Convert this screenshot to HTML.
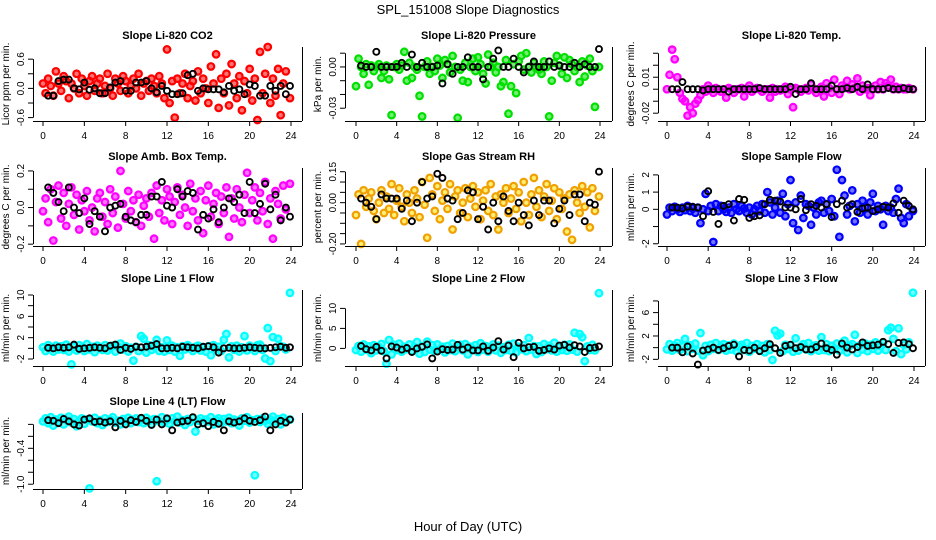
<!DOCTYPE html>
<html><head><meta charset="utf-8">
<style>
html,body{margin:0;padding:0;background:#fff;}
svg{display:block;font-family:"Liberation Sans",Arial,sans-serif;}
</style></head>
<body>
<svg id="chart" width="936" height="540" viewBox="0 0 936 540" xmlns="http://www.w3.org/2000/svg">
<rect x="0" y="0" width="936" height="540" fill="#fff"/>
<text x="468" y="14" text-anchor="middle" font-size="13">SPL_151008  Slope Diagnostics</text>
<text x="468" y="531" text-anchor="middle" font-size="13">Hour of Day (UTC)</text>
</svg>
<script>
// shared hours
const hoursColored = [
0,0.25,0.5,0.75,1,1.25,1.5,1.75,2,2.25,2.5,2.75,
3,3.25,3.5,3.75,4,4.25,4.5,4.75,5,5.25,5.5,5.75,
6,6.25,6.5,6.75,7,7.25,7.5,7.75,8,8.25,8.5,8.75,
9,9.25,9.5,9.75,10,10.25,10.5,10.75,11,11.25,11.5,11.75,
12,12.25,12.5,12.75,13,13.25,13.5,13.75,14,14.25,14.5,14.75,
15,15.25,15.5,15.75,16,16.25,16.5,16.75,17,17.25,17.5,17.75,
18,18.25,18.5,18.75,19,19.25,19.5,19.75,20,20.25,20.5,20.75,
21,21.25,21.5,21.75,22,22.25,22.5,22.75,23,23.25,23.5,23.9];
const hoursBlack = [
0.5,1,1.5,2,2.5,3,3.5,4,4.5,5,5.5,6,
6.5,7,7.5,8,8.5,9,9.5,10,10.5,11,11.5,12,
12.5,13,13.5,14,14.5,15,15.5,16,16.5,17,17.5,18,
18.5,19,19.5,20,20.5,21,21.5,22,22.5,23,23.5,23.9];
const xTicks = [0,4,8,12,16,20,24];

const co2Colored = [0.1,-0.1,0.2,0.05,-0.15,0.35,0.1,-0.05,0.25,0.15,-0.2,0.1,
0.0,0.3,-0.1,0.2,0.05,-0.15,0.15,0.25,-0.05,0.1,0.2,-0.1,
0.05,0.3,0.0,-0.15,0.2,0.1,-0.05,0.25,0.15,-0.1,0.05,0.2,
0.0,0.3,-0.15,0.1,0.15,-0.05,0.2,0.05,-0.1,0.25,0.1,-0.2,
0.8,-0.3,0.15,-0.6,0.2,-0.1,0.1,0.3,-0.2,0.05,0.15,-0.25,
0.35,-0.1,0.2,0.0,-0.3,0.45,0.1,0.7,-0.4,0.2,-0.1,0.3,
-0.35,0.5,0.1,-0.2,0.25,-0.45,0.15,-0.1,0.4,-0.25,0.2,-0.65,
0.75,-0.1,0.3,0.85,-0.3,0.2,-0.15,0.4,-0.55,0.1,0.35,-0.2];
const co2Black = [-0.15,-0.15,0.15,0.18,0.18,0.0,-0.02,0.12,-0.03,0.0,-0.1,-0.1,
0.02,0.12,0.15,-0.05,-0.05,0.12,0.12,0.15,0.0,-0.08,0.05,-0.05,
-0.12,-0.12,-0.1,0.27,0.3,-0.05,0.0,-0.02,-0.02,-0.02,-0.08,0.05,
-0.05,-0.02,-0.12,0.08,0.05,-0.15,-0.15,0.05,-0.05,0.05,-0.12,0.05];

const pressColored = [-0.014,0.006,0.0,-0.005,0.002,-0.013,0.001,-0.003,0.0,0.002,-0.008,-0.003,
0.001,-0.009,-0.035,0.0,0.002,-0.002,0.001,0.011,-0.01,0.003,-0.008,0.0,
-0.002,-0.021,-0.036,0.0,0.004,-0.005,0.0,-0.003,0.006,0.001,-0.008,0.005,
0.002,-0.004,0.008,0.0,-0.037,-0.002,-0.01,0.003,-0.011,0.0,0.006,-0.003,
0.007,0.002,-0.005,-0.012,0.009,0.0,0.003,-0.004,0.0,-0.014,-0.011,0.005,
-0.034,-0.014,0.002,-0.019,0.004,0.008,-0.002,0.01,0.0,-0.004,0.003,0.0,
-0.002,-0.005,0.004,0.0,-0.036,-0.01,0.003,0.008,0.001,-0.005,0.007,-0.008,
0.005,0.002,-0.003,0.0,-0.011,0.004,-0.007,0.001,0.006,-0.003,-0.029,0.0];
const pressBlack = [0.001,0.0,0.0,0.011,0.0,0.0,0.0,0.0,0.003,0.0,0.009,0.0,
0.003,0.0,0.0,0.001,-0.012,0.002,-0.005,0.0,0.0,0.007,0.0,0.0,
-0.009,0.0,0.006,0.012,0.0,0.0,0.006,0.0,-0.004,0.0,0.004,0.0,
0.0,0.004,0.0,0.001,0.0,0.0,0.003,0.0,0.002,0.0,0.0,0.013];

const tempColored = [0.0,0.012,0.033,0.025,0.01,-0.003,-0.008,-0.01,-0.022,-0.015,-0.02,-0.012,
-0.009,-0.005,0.0,-0.002,0.003,0.0,-0.003,0.001,0.0,-0.002,0.0,-0.007,
0.001,0.0,-0.003,0.0,0.0,0.001,-0.006,0.0,0.003,-0.002,0.0,0.001,
0.0,-0.002,0.0,0.0,-0.007,0.001,-0.002,0.0,-0.001,0.0,0.002,-0.004,
0.0,-0.015,0.001,0.0,-0.002,0.0,0.001,-0.001,0.004,0.0,-0.003,0.0,
0.002,-0.006,0.005,0.001,-0.003,0.008,0.0,-0.004,0.003,0.001,0.007,0.0,
0.004,0.001,0.009,-0.002,0.003,0.0,0.001,-0.005,0.0,0.003,0.0,0.006,
0.0,0.005,0.003,0.008,0.0,0.002,0.0,0.001,0.0,0.0,0.001,0.0];
const tempBlack = [0.0,0.0,0.006,0.0,0.0,0.0,-0.001,0.0,0.0,0.0,0.0,-0.002,
0.0,0.0,0.0,0.0,0.0,0.001,0.0,0.0,0.0,0.0,0.0,0.002,
-0.004,0.0,0.0,0.005,0.0,0.0,0.0,0.003,0.0,0.0,0.001,0.0,
0.002,0.0,0.004,0.0,0.0,0.0,0.001,0.0,0.0,0.001,0.0,0.0];

const ambColored = [-0.02,0.05,-0.08,0.1,-0.18,0.03,0.12,-0.06,0.08,-0.1,0.02,0.11,
-0.04,0.07,-0.12,0.04,-0.02,0.09,-0.07,0.0,-0.13,0.05,0.08,-0.05,
0.03,-0.09,0.1,-0.03,0.06,-0.11,0.2,0.02,-0.06,0.09,-0.02,0.04,
-0.08,0.07,-0.1,0.01,0.05,-0.05,0.08,-0.17,0.12,-0.03,0.04,-0.07,
0.1,0.06,-0.09,0.03,0.11,-0.04,0.07,0.0,-0.1,0.13,-0.02,0.05,
-0.07,0.09,-0.14,0.04,0.12,-0.05,0.02,0.08,-0.09,0.06,-0.03,0.11,
-0.16,0.05,-0.06,0.1,0.0,-0.08,0.07,0.19,-0.03,0.04,0.11,-0.07,
0.08,-0.02,0.14,-0.09,0.05,-0.17,0.09,0.02,-0.06,0.12,-0.01,0.13];
const ambBlack = [0.11,0.08,0.03,-0.02,0.11,0.0,-0.03,0.05,-0.09,-0.02,-0.05,-0.13,
0.0,0.01,0.02,-0.05,-0.07,-0.08,-0.04,-0.04,0.06,0.06,0.14,0.01,
0.0,0.1,0.06,0.09,0.08,-0.12,-0.04,-0.06,-0.01,-0.08,0.0,0.05,
0.03,0.07,-0.03,0.14,-0.03,0.02,0.13,-0.01,0.07,-0.07,0.0,-0.05];

const rhColored = [-0.06,0.04,-0.2,0.06,-0.02,0.02,0.05,-0.04,-0.08,0.0,0.06,-0.05,
0.03,-0.03,0.09,-0.06,0.01,0.07,-0.02,-0.09,0.04,0.0,-0.05,0.06,
0.02,-0.07,0.1,-0.01,-0.17,0.12,0.04,-0.04,0.08,-0.08,0.01,0.05,
-0.03,0.09,-0.13,0.03,0.06,-0.05,0.0,0.07,-0.07,0.02,0.08,-0.02,
0.05,-0.08,0.01,0.06,-0.04,0.09,-0.06,0.03,-0.13,0.04,0.0,0.07,
-0.05,0.02,0.08,-0.03,0.05,-0.09,0.1,0.0,-0.06,0.04,0.12,-0.02,
0.06,-0.07,0.03,0.09,-0.04,0.01,0.07,-0.08,0.05,-0.03,0.02,-0.14,
0.04,-0.18,0.06,0.0,-0.05,0.08,-0.02,0.05,-0.12,0.07,-0.04,0.03];
const rhBlack = [0.02,0.0,-0.02,-0.08,0.04,0.02,0.02,0.02,-0.03,0.01,-0.09,0.0,
0.1,0.02,0.03,0.14,0.12,0.02,0.01,-0.08,-0.05,0.06,0.05,-0.08,
-0.02,-0.13,0.0,-0.09,0.03,-0.04,-0.09,0.0,-0.06,-0.11,0.01,-0.06,
0.01,0.01,-0.1,-0.03,0.01,-0.06,0.04,0.04,-0.09,0.0,-0.01,0.15];

const sampleColored = [-0.3,0.1,-0.1,0.15,0.0,-0.15,0.1,-0.05,0.2,-0.1,0.05,-0.2,
0.1,-0.8,0.0,0.9,-0.1,0.2,-1.9,0.3,-0.1,0.2,0.0,-0.15,
0.1,-0.2,0.3,0.0,-0.1,0.2,0.05,-0.2,0.1,-0.3,0.0,0.2,
-0.1,0.3,-0.2,1.0,0.4,-0.3,0.1,0.5,-0.2,0.9,-0.4,0.3,
1.7,-0.8,0.4,-1.2,0.8,-0.5,0.3,0.2,-0.9,0.1,-0.3,0.4,
0.5,-0.2,0.3,-0.1,0.6,-0.4,2.3,-1.6,1.7,0.8,-0.3,0.2,
1.1,-0.7,0.3,-0.2,0.5,0.1,-0.3,0.4,0.9,-0.1,0.2,0.0,
-0.9,0.2,-0.1,0.1,-0.2,0.6,1.2,-0.5,-0.8,0.3,-0.4,-0.1];
const sampleBlack = [0.1,0.1,0.05,0.15,0.15,0.1,-0.4,1.05,-0.15,-0.85,0.2,0.3,
-0.65,0.6,0.55,-0.5,-0.4,-0.35,0.3,0.55,0.5,0.45,0.1,0.1,
0.0,0.6,-0.05,0.3,0.2,0.1,0.3,-0.45,0.3,0.5,0.1,0.3,
-0.15,0.05,0.1,-0.1,0.0,0.15,0.1,0.35,-0.2,0.5,0.2,0.0];

const line1Colored = [0.2,-0.5,0.6,0.0,-0.6,0.5,-0.2,0.4,-0.3,0.7,-0.6,-3.0,
0.3,-0.4,0.6,0.1,-0.5,0.8,-0.2,0.3,-0.7,0.5,0.0,-0.3,
0.6,-0.4,0.2,0.5,-0.6,0.3,0.9,-0.2,0.4,-0.6,0.1,-2.3,
0.3,-0.5,2.3,1.8,-0.8,0.6,-0.3,0.4,1.6,-0.5,0.2,-0.6,
1.5,-0.3,0.5,-0.6,0.2,-1.4,0.4,-0.2,0.6,0.0,-0.5,0.3,
0.5,-0.4,0.2,-0.6,0.4,-1.3,0.6,-0.2,0.3,-0.5,1.6,2.7,
-1.7,0.4,-0.3,0.5,-0.6,0.2,2.3,-0.4,0.5,0.1,-0.5,0.6,
0.7,-0.3,-1.9,3.8,-2.4,2.1,-0.5,1.8,0.4,0.3,-0.2,10.4];
const line1Black = [0.1,0.0,0.2,0.1,0.2,0.7,-0.1,0.0,0.1,0.2,0.1,0.0,
0.5,0.7,-0.3,0.1,-0.1,0.3,0.2,0.3,0.5,0.8,0.0,0.0,
0.1,0.0,0.3,0.2,0.1,0.0,0.3,0.4,0.2,-0.8,0.0,0.1,
0.0,0.0,0.1,0.2,0.1,0.0,0.0,0.1,0.2,0.3,0.1,0.2];

const line2Colored = [-0.4,0.6,-0.8,1.0,-0.3,0.5,-1.2,0.8,-0.5,0.3,1.1,-0.7,
-3.8,2.1,-1.5,0.9,-0.4,1.2,-0.8,0.4,-0.2,1.0,-0.6,0.3,
1.6,-1.3,0.5,-0.9,1.7,-0.3,0.8,-0.6,1.0,-0.2,0.4,-1.0,
0.6,-0.4,1.2,-0.7,0.3,0.9,-0.5,1.1,-1.5,0.4,-0.2,0.8,
-0.9,1.3,-0.3,0.6,-0.8,0.2,1.0,-0.5,0.7,-1.1,0.3,-0.4,
0.9,-0.6,1.2,-1.0,0.4,-0.2,0.8,-0.7,2.6,-0.3,0.6,-1.4,
0.5,-0.9,1.1,-0.2,0.7,-0.5,1.4,-0.8,0.3,-0.4,0.9,-0.6,
1.0,-0.3,3.9,-0.8,3.6,2.8,-3.2,0.5,-0.4,0.9,-0.5,13.8];
const line2Black = [0.6,-0.2,-0.5,0.4,-0.6,-2.5,0.5,0.2,-0.3,0.1,-0.9,0.0,
0.4,1.0,-2.5,-0.8,-0.2,-0.4,-0.3,0.9,-0.3,0.2,-0.5,-0.5,
0.5,-0.6,0.2,1.8,-0.3,0.7,-2.2,1.4,0.0,0.3,0.4,-0.6,
-0.4,0.0,-0.3,0.7,0.9,0.2,0.8,0.5,-0.9,0.1,0.2,0.5];

const line3Colored = [-0.3,0.6,-0.5,0.3,0.8,-0.4,0.2,1.5,-0.6,0.4,-0.2,0.7,
-0.5,2.5,-1.3,0.3,-0.6,0.5,-0.2,0.8,-0.4,0.2,0.6,-0.5,
0.4,-0.3,0.7,-0.6,0.2,0.5,-0.4,0.8,-0.7,0.3,-0.2,0.6,
-0.5,0.3,-0.8,0.6,-0.4,-2.1,2.9,2.1,2.4,-0.6,0.5,-0.2,
0.4,-0.7,1.6,-0.5,0.2,0.6,-0.3,0.8,-0.6,0.3,0.4,-0.5,
1.8,-0.4,0.6,-0.6,0.3,-0.2,0.7,-0.5,0.4,1.2,-0.8,0.3,
0.6,2.2,-0.9,0.4,-0.3,0.7,-0.6,0.5,-0.2,0.9,-0.5,0.3,
0.8,-0.4,3.0,3.4,1.5,-0.6,3.3,-1.1,0.5,-0.3,0.9,9.4];
const line3Black = [0.0,0.0,-0.8,0.2,-1.0,-2.9,-0.5,-0.3,0.0,-0.4,-0.1,0.3,
0.5,-1.5,-0.4,-0.5,0.0,-0.6,-0.1,0.6,-0.1,-0.9,0.3,0.5,
-0.1,0.1,-0.3,-0.3,0.1,0.7,-0.1,-0.4,-1.2,0.7,0.0,-0.3,
0.1,0.9,0.3,0.4,0.5,1.0,0.6,-0.9,0.8,0.9,0.6,-0.1];

const line4Colored = [0.05,0.1,0.02,0.12,-0.02,0.08,0.04,0.11,0.0,0.07,0.13,0.03,
0.09,-0.03,0.06,0.1,0.01,0.08,-1.07,0.05,0.11,0.02,0.07,-0.01,
0.1,0.04,0.08,0.12,0.03,0.06,0.0,0.09,0.05,0.11,0.02,0.07,
0.1,0.04,0.08,0.02,0.11,0.06,0.0,0.09,-0.95,0.05,0.12,0.03,
0.08,0.01,0.1,0.05,0.13,0.03,0.07,-0.01,0.09,0.04,0.11,-0.12,
0.06,0.1,0.02,0.08,0.05,0.12,0.0,0.07,0.1,0.03,0.09,0.05,
0.11,0.02,0.08,0.05,-0.02,0.1,0.06,0.12,0.03,0.07,-0.85,0.09,
0.04,0.1,0.06,0.01,0.08,0.13,0.05,0.09,0.0,0.11,0.06,0.08];
const line4Black = [0.07,0.06,0.02,0.09,0.05,0.0,-0.02,0.08,0.1,0.04,0.05,0.03,
0.05,-0.05,0.06,0.0,0.07,0.04,0.11,0.06,-0.01,0.08,0.0,0.1,
-0.1,0.03,0.05,0.06,0.12,0.0,0.02,-0.03,0.04,0.01,-0.1,0.05,
0.03,0.05,0.1,0.06,0.04,0.07,0.13,-0.1,0.0,0.06,0.03,0.08];

// y tick values and labels per panel
const co2Ticks = [-0.6,-0.3,0,0.3,0.6];       const co2Labels = ["-0.6","","0.0","","0.6"];
const pressTicks = [-0.03,-0.02,-0.01,0,0.01]; const pressLabels = ["-0.03","","","0.00",""];
const tempTicks = [-0.02,-0.01,0,0.01,0.02,0.03]; const tempLabels = ["-0.02","","","0.01","",""];
const ambTicks = [-0.2,-0.1,0,0.1,0.2];        const ambLabels = ["-0.2","","0.0","","0.2"];
const rhTicks = [-0.2,-0.15,-0.1,-0.05,0,0.05,0.1,0.15]; const rhLabels = ["-0.20","","","","0.00","","","0.15"];
const sampleTicks = [-2,-1,0,1,2];             const sampleLabels = ["-2","","0","1","2"];
const line1Ticks = [-2,0,2,4,6,8,10];          const line1Labels = ["-2","","2","","6","","10"];
const line2Ticks = [0,5,10];                   const line2Labels = ["0","5","10"];
const line3Ticks = [-2,0,2,4,6,8];             const line3Labels = ["-2","","2","","6",""];
const line4Ticks = [-1.0,-0.8,-0.6,-0.4,-0.2,0]; const line4Labels = ["-1.0","","","-0.4","",""];

const NS = "http://www.w3.org/2000/svg";
const svg = document.getElementById('chart');
function mk(tag, attrs, parent){
  const e = document.createElementNS(NS, tag);
  for (const k in attrs) e.setAttribute(k, attrs[k]);
  (parent||svg).appendChild(e); return e;
}
const cols = [{L:33,R:302,x0:43,x24:291},{L:345,R:612,x0:356,x24:600},{L:658,R:925,x0:667,x24:914}];
const rows = [{T:47,B:121},{T:168,B:246},{T:290,B:366},{T:413,B:489}];

const panels = [
 {key:"co2",title:"Slope Li-820 CO2",ylab:"Licor ppm per min.",c:0,r:0,ylo:-0.67,yhi:0.85,col:"#ff0000",fill:"#ff0000",colored:co2Colored,black:co2Black,ticks:co2Ticks,labels:co2Labels},
 {key:"pressure",title:"Slope Li-820 Pressure",ylab:"kPa per min.",c:1,r:0,ylo:-0.0393,yhi:0.0145,col:"#00e000",fill:"#00e000",colored:pressColored,black:pressBlack,ticks:pressTicks,labels:pressLabels},
 {key:"temp",title:"Slope Li-820 Temp.",ylab:"degrees C per min.",c:2,r:0,ylo:-0.0265,yhi:0.0352,col:"#ff00ff",fill:"#ff00ff",colored:tempColored,black:tempBlack,ticks:tempTicks,labels:tempLabels},
 {key:"amb-box",title:"Slope Amb. Box Temp.",ylab:"degrees C per min.",c:0,r:1,ylo:-0.21,yhi:0.216,col:"#ff00ff",fill:"#ff00ff",colored:ambColored,black:ambBlack,ticks:ambTicks,labels:ambLabels},
 {key:"rh",title:"Slope Gas Stream RH",ylab:"percent per min.",c:1,r:1,ylo:-0.21,yhi:0.168,col:"#f0a000",fill:"#ffe000",colored:rhColored,black:rhBlack,ticks:rhTicks,labels:rhLabels},
 {key:"sample-flow",title:"Slope Sample Flow",ylab:"ml/min per min.",c:2,r:1,ylo:-2.13,yhi:2.4,col:"#0000ff",fill:"#0000ff",colored:sampleColored,black:sampleBlack,ticks:sampleTicks,labels:sampleLabels},
 {key:"line1",title:"Slope Line 1 Flow",ylab:"ml/min per min.",c:0,r:2,ylo:-3.31,yhi:10.94,col:"#00ffff",fill:"#00ffff",colored:line1Colored,black:line1Black,ticks:line1Ticks,labels:line1Labels},
 {key:"line2",title:"Slope Line 2 Flow",ylab:"ml/min per min.",c:1,r:2,ylo:-4.4,yhi:14.6,col:"#00ffff",fill:"#00ffff",colored:line2Colored,black:line2Black,ticks:line2Ticks,labels:line2Labels},
 {key:"line3",title:"Slope Line 3 Flow",ylab:"ml/min per min.",c:2,r:2,ylo:-3.14,yhi:9.87,col:"#00ffff",fill:"#00ffff",colored:line3Colored,black:line3Black,ticks:line3Ticks,labels:line3Labels},
 {key:"line4",title:"Slope Line 4 (LT) Flow",ylab:"ml/min per min.",c:0,r:3,ylo:-1.08,yhi:0.19,col:"#00ffff",fill:"#00ffff",colored:line4Colored,black:line4Black,ticks:line4Ticks,labels:line4Labels}
];

panels.forEach(p => {
  const C = cols[p.c], R = rows[p.r];
  const xs = h => C.x0 + (C.x24 - C.x0) * h / 24;
  const ys = v => R.B - (R.B - R.T) * (v - p.ylo) / (p.yhi - p.ylo);
  const g = mk('g', {});
  
  

  const t = mk('text', {x:(C.L+C.R)/2, y:R.T-8, 'text-anchor':'middle', 'font-size':11, 'font-weight':'bold'}, g);
  t.textContent = p.title;
  
  

  const yl = mk('text', {x:0, y:0, 'text-anchor':'middle', 'font-size':10, transform:`translate(${C.L-24},${(R.T+R.B)/2}) rotate(-90)`}, g);
  yl.textContent = p.ylab;
  
  

  const pts = mk('g', {fill:p.fill, 'fill-opacity':0.55, stroke:p.col, 'stroke-width':2.2}, g);
  
  
  const n = Math.min(p.colored.length, hoursColored.length);
  for (let i = 0; i < n; i++) {
    const c = mk('circle', {cx:xs(hoursColored[i]), cy:ys(p.colored[i]), r:3.3}, pts);
    
    
  }
  const bpts = mk('g', {fill:'none', stroke:'#000', 'stroke-width':1.9}, g);
  
  
  const nb = Math.min(p.black.length, hoursBlack.length);
  for (let i = 0; i < nb; i++) {
    const c = mk('circle', {cx:xs(hoursBlack[i]), cy:ys(p.black[i]), r:3}, bpts);
    
    
  }

  const ax = mk('g', {stroke:'#000', 'stroke-width':1, fill:'none'}, g);
  
  
  mk('line', {x1:C.L, y1:R.B+0.5, x2:C.R, y2:R.B+0.5}, ax);
  mk('line', {x1:C.R+0.5, y1:R.T, x2:C.R+0.5, y2:R.B}, ax);
  xTicks.forEach(h => {
    mk('line', {x1:xs(h), y1:R.B, x2:xs(h), y2:R.B+5}, ax);
    const tl = mk('text', {x:xs(h), y:R.B+18, 'text-anchor':'middle', 'font-size':10, stroke:'none', fill:'#000'}, g);
    tl.textContent = h;
    
    
  });
  const ty = p.ticks.map(ys);
  mk('line', {x1:C.L+0.5, y1:Math.min(...ty), x2:C.L+0.5, y2:Math.max(...ty)}, ax);
  p.ticks.forEach((v, i) => {
    const y = ys(v);
    mk('line', {x1:C.L-5, y1:y, x2:C.L, y2:y}, ax);
    if (p.labels[i]) {
      const tl = mk('text', {x:0, y:0, 'text-anchor':'middle', 'font-size':10, transform:`translate(${C.L-9},${y}) rotate(-90)`}, g);
      tl.textContent = p.labels[i];
      
      
    }
  });
});
</script>
</body></html>
